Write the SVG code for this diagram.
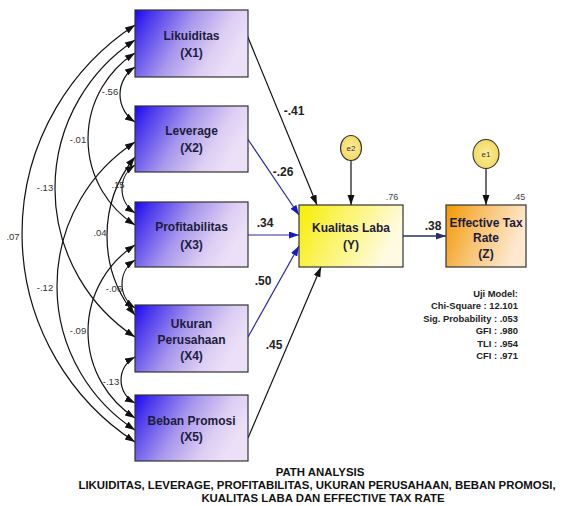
<svg xmlns="http://www.w3.org/2000/svg" width="570" height="506" viewBox="0 0 570 506">
<defs>
<linearGradient id="gBlue" x1="0" y1="0" x2="1" y2="0.35">
<stop offset="0" stop-color="#1a06f5"/>
<stop offset="0.15" stop-color="#4a38ec"/>
<stop offset="0.5" stop-color="#a898ec"/>
<stop offset="0.8" stop-color="#dccdf3"/>
<stop offset="1" stop-color="#ebe0f7"/>
</linearGradient>
<linearGradient id="gYellow" x1="0" y1="0" x2="1" y2="0.3">
<stop offset="0" stop-color="#f6ee00"/>
<stop offset="0.45" stop-color="#fbf46a"/>
<stop offset="1" stop-color="#fffbe2"/>
</linearGradient>
<linearGradient id="gOrange" x1="0" y1="0" x2="1" y2="0.3">
<stop offset="0" stop-color="#f39800"/>
<stop offset="0.45" stop-color="#f8c06a"/>
<stop offset="1" stop-color="#fde9d0"/>
</linearGradient>
<radialGradient id="gErr" cx="0.5" cy="0.5" r="0.6">
<stop offset="0" stop-color="#fbeea0"/>
<stop offset="1" stop-color="#f2d455"/>
</radialGradient>
<marker id="ahK" markerUnits="userSpaceOnUse" markerWidth="11" markerHeight="8" refX="10" refY="3.5" orient="auto-start-reverse">
<path d="M0,0 L10,3.5 L0,7 z" fill="#111"/>
</marker>
<marker id="ahB" markerUnits="userSpaceOnUse" markerWidth="11" markerHeight="8" refX="10" refY="3.5" orient="auto">
<path d="M0,0 L10,3.5 L0,7 z" fill="#1a1ac0"/>
</marker>
<marker id="ahN" markerUnits="userSpaceOnUse" markerWidth="11" markerHeight="8" refX="10" refY="3.5" orient="auto">
<path d="M0,0 L10,3.5 L0,7 z" fill="#24306a"/>
</marker>
</defs>
<style>
.box{fill:url(#gBlue);stroke:#333;stroke-width:1.2}
.nt{font-family:"Liberation Sans",Arial,sans-serif;font-weight:bold;font-size:12px;fill:#1c1c3c;text-anchor:middle}
.cov{fill:none;stroke:#111;stroke-width:1.2;marker-start:url(#ahK);marker-end:url(#ahK)}
.cl{font-family:"Liberation Sans",Arial,sans-serif;font-size:9.5px;fill:#333;text-anchor:middle}
.pl{font-family:"Liberation Sans",Arial,sans-serif;font-weight:bold;font-size:12px;fill:#222;text-anchor:middle}
.pk{fill:none;stroke:#111;stroke-width:1.2;marker-end:url(#ahK)}
.pb{fill:none;stroke:#2a2aa8;stroke-width:1.2;marker-end:url(#ahB)}
.pn{fill:none;stroke:#24306a;stroke-width:1.4;marker-end:url(#ahN)}
.r2{font-family:"Liberation Sans",Arial,sans-serif;font-size:9px;fill:#444;text-anchor:middle}
.et{font-family:"Liberation Sans",Arial,sans-serif;font-size:8px;fill:#333;text-anchor:middle}
.fit{font-family:"Liberation Sans",Arial,sans-serif;font-weight:bold;font-size:9.4px;fill:#222;text-anchor:end}
.ttl{font-family:"Liberation Sans",Arial,sans-serif;font-weight:bold;font-size:11.4px;fill:#111;text-anchor:middle}
</style>

<g id="connectors">
<path class="cov" d="M135,67 A32.7,32.7 0 0 0 135,122"/>
<path class="cov" d="M135,165 A28.65,28.65 0 0 0 135,213"/>
<path class="cov" d="M135,260 A28.65,28.65 0 0 0 135,308"/>
<path class="cov" d="M135,357 A25.9,25.9 0 0 0 135,403"/>
<path class="cov" d="M135,53 A102.2,102.2 0 0 0 135,225"/>
<path class="cov" d="M135,157 A125.4,125.4 0 0 0 135,315"/>
<path class="cov" d="M135,245 A103.1,103.1 0 0 0 135,418"/>
<path class="cov" d="M135,40 A177.8,177.8 0 0 0 135,337"/>
<path class="cov" d="M135,142 A171.9,171.9 0 0 0 135,430"/>
<path class="cov" d="M135,25 A248.9,248.9 0 0 0 135,442"/>

<path class="pk" d="M247,35 L317,205"/>
<path class="pb" d="M247,138 L299,215"/>
<path class="pb" d="M247,235 L299,235"/>
<path class="pb" d="M248,337 L299,246"/>
<path class="pk" d="M248,438 L321,267"/>
<path class="pn" d="M403,236 L446,236"/>
<path class="pk" d="M351,160.5 L351,205"/>
<path class="pk" d="M486,168.5 L486,205"/>

<text class="cl" x="110" y="95">-.56</text>
<text class="cl" x="118" y="188">.15</text>
<text class="cl" x="114" y="292">-.06</text>
<text class="cl" x="111" y="385">-.13</text>
<text class="cl" x="78" y="143">-.01</text>
<text class="cl" x="100" y="236">.04</text>
<text class="cl" x="78" y="334">-.09</text>
<text class="cl" x="45" y="191">-.13</text>
<text class="cl" x="45" y="291">-.12</text>
<text class="cl" x="13" y="240">.07</text>

<text class="pl" x="294" y="115">-.41</text>
<text class="pl" x="283" y="176">-.26</text>
<text class="pl" x="265" y="227">.34</text>
<text class="pl" x="263" y="285">.50</text>
<text class="pl" x="274" y="349">.45</text>
<text class="pl" x="433" y="230">.38</text>
</g>

<g id="x1">
<rect class="box" x="135" y="10" width="113" height="67"/>
<text class="nt" x="191.5" y="40">Likuiditas</text>
<text class="nt" x="191.5" y="57">(X1)</text>
</g>
<g id="x2">
<rect class="box" x="135" y="106" width="113" height="66"/>
<text class="nt" x="191.5" y="135">Leverage</text>
<text class="nt" x="191.5" y="152">(X2)</text>
</g>
<g id="x3">
<rect class="box" x="135" y="202" width="113" height="65"/>
<text class="nt" x="191.5" y="231">Profitabilitas</text>
<text class="nt" x="191.5" y="249">(X3)</text>
</g>
<g id="x4">
<rect class="box" x="135" y="305" width="113" height="67"/>
<text class="nt" x="191.5" y="328">Ukuran</text>
<text class="nt" x="191.5" y="344">Perusahaan</text>
<text class="nt" x="191.5" y="360">(X4)</text>
</g>
<g id="x5">
<rect class="box" x="135" y="395" width="113" height="66"/>
<text class="nt" x="191.5" y="425">Beban Promosi</text>
<text class="nt" x="191.5" y="441">(X5)</text>
</g>

<g id="y">
<rect x="299" y="205" width="104" height="62" fill="url(#gYellow)" stroke="#333" stroke-width="1.2"/>
<text class="nt" x="351" y="232">Kualitas Laba</text>
<text class="nt" x="351" y="249">(Y)</text>
<text class="r2" x="392" y="200">.76</text>
</g>
<g id="e2">
<ellipse cx="351" cy="148" rx="10.5" ry="12.5" fill="url(#gErr)" stroke="#333" stroke-width="1.1"/>
<text class="et" x="351" y="151">e2</text>
</g>
<g id="z">
<rect x="446" y="205" width="80" height="62" fill="url(#gOrange)" stroke="#333" stroke-width="1.2"/>
<text class="nt" x="486" y="227">Effective Tax</text>
<text class="nt" x="486" y="242">Rate</text>
<text class="nt" x="486" y="258">(Z)</text>
<text class="r2" x="519" y="200">.45</text>
</g>
<g id="e1">
<ellipse cx="486" cy="154" rx="13" ry="14.5" fill="url(#gErr)" stroke="#333" stroke-width="1.1"/>
<text class="et" x="486" y="157">e1</text>
</g>

<g id="fit">
<text class="fit" x="518" y="296.5">Uji Model:</text>
<text class="fit" x="518" y="309">Chi-Square : 12.101</text>
<text class="fit" x="518" y="321.5">Sig. Probability : .053</text>
<text class="fit" x="518" y="334">GFI : .980</text>
<text class="fit" x="518" y="346.5">TLI : .954</text>
<text class="fit" x="518" y="359">CFI : .971</text>
</g>

<g id="title">
<text class="ttl" x="320" y="476">PATH ANALYSIS</text>
<text class="ttl" x="317" y="489">LIKUIDITAS, LEVERAGE, PROFITABILITAS, UKURAN PERUSAHAAN, BEBAN PROMOSI,</text>
<text class="ttl" x="323" y="502">KUALITAS LABA DAN EFFECTIVE TAX RATE</text>
</g>
</svg>
